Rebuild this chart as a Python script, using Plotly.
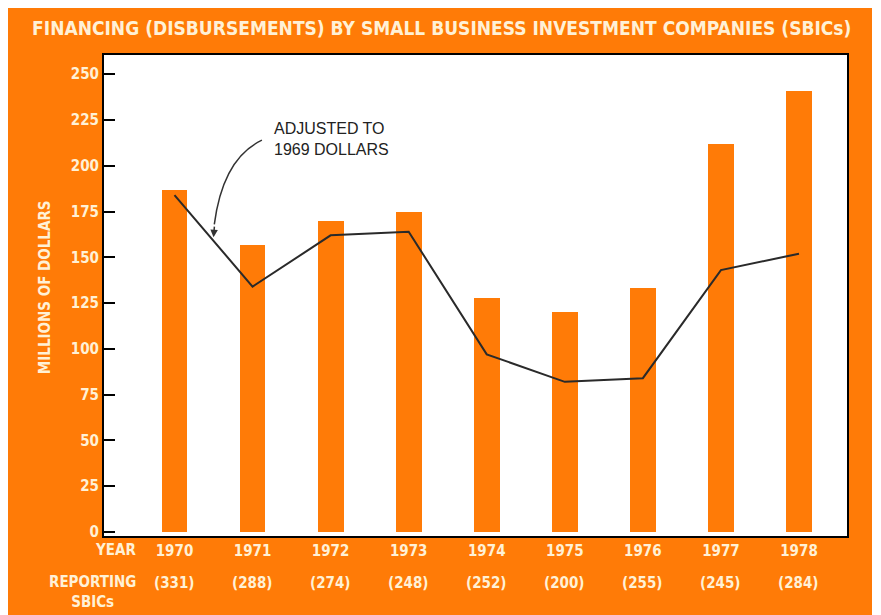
"""
SBIC financing chart (bars: current dollars, line: adjusted to 1969 dollars)
"""
import plotly.graph_objects as go

years = [1970, 1971, 1972, 1973, 1974, 1975, 1976, 1977, 1978]
disbursements = [187, 157, 170, 175, 128, 120, 133, 212, 241]
adjusted_1969 = [184, 134, 162, 164, 97, 82, 84, 143, 152]
reporting_sbics = ["(331)", "(288)", "(274)", "(248)", "(252)", "(200)", "(255)", "(245)", "(284)"]
y_ticks = [0, 25, 50, 75, 100, 125, 150, 175, 200, 225, 250]

ORANGE = "#FF7B07"
CREAM = "#FFF1D6"
FONT = "DejaVu Sans Condensed"
label_font = dict(family=FONT, size=15, color=CREAM, weight="bold")

fig = go.Figure()
fig.add_trace(go.Bar(
    x=years, y=disbursements, width=0.33,
    marker=dict(color=ORANGE, line_width=0),
))
fig.add_trace(go.Scatter(
    x=years, y=adjusted_1969, mode="lines",
    line=dict(color="#2a2a2a", width=2),
))

# reporting SBIC counts under each year
for yr, n in zip(years, reporting_sbics):
    fig.add_annotation(
        x=yr, xref="x", y=-0.098, yref="paper", text=n, showarrow=False,
        xanchor="center", yanchor="middle", font=label_font,
    )

fig.add_annotation(x=0.046, y=-0.029, xref="paper", yref="paper", text="YEAR",
                   showarrow=False, xanchor="right", yanchor="middle", font=label_font)
fig.add_annotation(x=0.046, y=-0.116, xref="paper", yref="paper",
                   text="REPORTING<br>SBICs", align="center",
                   showarrow=False, xanchor="right", yanchor="middle", font=label_font)
fig.add_annotation(x=-0.079, y=0.518, xref="paper", yref="paper",
                   text="MILLIONS OF DOLLARS", textangle=-90, showarrow=False,
                   xanchor="center", yanchor="middle", font=label_font)

# label for the adjusted line, with curved pointer
fig.add_annotation(x=1971.25, y=203, text="ADJUSTED TO<br>1969 DOLLARS",
                   showarrow=False, xanchor="left", yanchor="bottom", align="left",
                   font=dict(family="Liberation Sans", size=16, color="#222"))
fig.add_shape(type="path", path="M 1971.12,214 Q 1970.62,204 1970.51,168",
              line=dict(color="#333", width=1.5), layer="above")
fig.add_annotation(x=1970.5, y=161, ax=1, ay=-12, text="", showarrow=True,
                   arrowhead=2, arrowsize=1, arrowwidth=1.5, arrowcolor="#333")

fig.update_layout(
    width=864, height=607,
    margin=dict(l=96, r=25, t=47, b=79),
    paper_bgcolor=ORANGE,
    plot_bgcolor="white",
    showlegend=False,
    bargap=0,
    title=dict(
        text="FINANCING (DISBURSEMENTS) BY SMALL BUSINESS INVESTMENT COMPANIES (SBICs)",
        x=0.502, xanchor="center", y=0.967, yanchor="middle",
        font=dict(family=FONT, size=19, color=CREAM, weight="bold"),
    ),
    xaxis=dict(
        range=[1969.097, 1978.615], tickvals=years, ticktext=[str(y) for y in years],
        showgrid=False, zeroline=False, showline=True, mirror=True,
        linecolor="black", linewidth=2, ticks="",
        tickfont=label_font,
    ),
    yaxis=dict(
        range=[-2.2, 260.5], tickvals=y_ticks,
        showgrid=False, zeroline=False, showline=True, mirror=True,
        linecolor="black", linewidth=2, ticks="inside", ticklen=11,
        tickcolor="black", tickwidth=2,
        tickfont=label_font,
    ),
)

fig.write_html("out.html")
